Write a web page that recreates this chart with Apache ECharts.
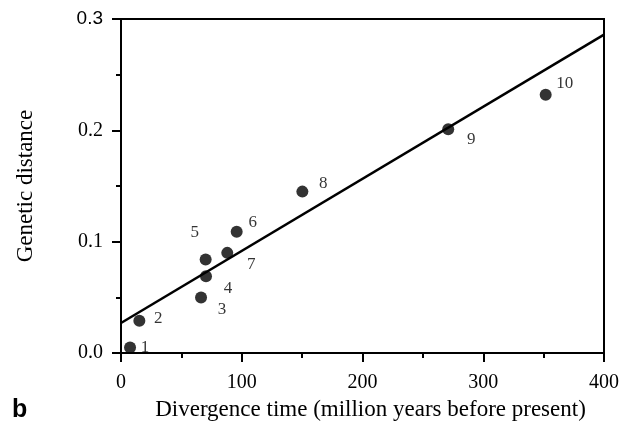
<!DOCTYPE html>
<html>
<head>
<meta charset="utf-8">
<script src="https://cdn.jsdelivr.net/npm/echarts@6/dist/echarts.min.js"></script>
<style>
  html, body { margin: 0; padding: 0; background: #fff; }
  #chart { width: 623px; height: 426px; }
</style>
</head>
<body>
<div id="chart"></div>
<script>
// point ids 1..10, divergence time (Myr) and genetic distance
const pointIds = ["1", "2", "3", "4", "5", "6", "7", "8", "9", "10"];
const times = [7.5, 15.2, 66.3, 70.4, 70.1, 95.8, 88, 150.2, 271, 351.7];
const distances = [0.005, 0.029, 0.050, 0.069, 0.084, 0.109, 0.090, 0.145, 0.201, 0.232];

// fitted regression line end points
const fitX = [0, 400];
const fitY = [0.027, 0.286];

// where each number sits relative to its dot (px)
const labelOffsets = [[15, 0], [19, -2], [21, 12], [22, 12], [-11, -27], [16, -9], [24, 12], [21, -8], [23, 10], [19, -11]];

const serif = "Liberation Serif";

const chart = echarts.init(document.getElementById("chart"));

const points = times.map((t, i) => ({
  value: [t, distances[i]],
  name: pointIds[i],
  label: { offset: labelOffsets[i] }
}));

chart.setOption({
  animation: false,
  grid: {
    left: 121, right: 19, top: 19, bottom: 72,
    show: true, borderColor: "#000", borderWidth: 2
  },
  xAxis: {
    type: "value",
    min: 0, max: 400, interval: 100,
    name: "Divergence time (million years before present)",
    nameLocation: "middle",
    nameGap: 41,
    nameTextStyle: { fontFamily: serif, fontSize: 23, color: "#000", padding: [0, 0, 0, 16] },
    axisLine: { lineStyle: { color: "#000", width: 2 } },
    axisTick: { length: 9, lineStyle: { color: "#000", width: 2 } },
    minorTick: { show: true, splitNumber: 2, length: 5, lineStyle: { color: "#000", width: 2 } },
    axisLabel: { margin: 20, fontFamily: serif, fontSize: 20, color: "#000" },
    splitLine: { show: false }
  },
  yAxis: {
    type: "value",
    min: 0, max: 0.3, interval: 0.1,
    name: "Genetic distance",
    nameLocation: "middle",
    nameGap: 84,
    nameTextStyle: { fontFamily: serif, fontSize: 23, color: "#000" },
    axisLine: { lineStyle: { color: "#000", width: 2 } },
    axisTick: { length: 9, lineStyle: { color: "#000", width: 2 } },
    minorTick: { show: true, splitNumber: 2, length: 5, lineStyle: { color: "#000", width: 2 } },
    axisLabel: {
      margin: 18, fontFamily: serif, fontSize: 20, color: "#000",
      formatter: v => v >= 0.3 ? "{s|" + v.toFixed(1) + "}" : v.toFixed(1),
      rich: { s: { fontFamily: "Liberation Sans", fontSize: 19, color: "#000" } }
    },
    splitLine: { show: false }
  },
  series: [
    {
      type: "line",
      data: fitX.map((x, i) => [x, fitY[i]]),
      symbol: "none",
      lineStyle: { color: "#000", width: 2.5 },
      z: 2
    },
    {
      type: "scatter",
      data: points,
      symbolSize: 12,
      itemStyle: { color: "#000" },
      label: {
        show: true,
        position: "inside",
        formatter: p => p.name,
        fontFamily: serif,
        fontSize: 17,
        color: "#000"
      },
      z: 3
    }
  ],
  graphic: [
    {
      type: "text",
      left: 12, top: 398,
      style: { text: "b", font: "bold 25px 'Liberation Sans'", fill: "#000" }
    }
  ]
});
</script>
</body>
</html>
